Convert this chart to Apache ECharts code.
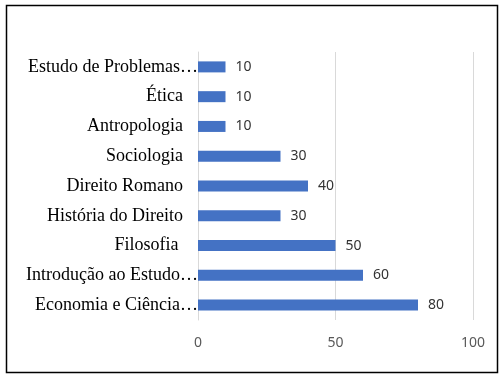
<!DOCTYPE html>
<html>
<head>
<meta charset="utf-8">
<script src="https://cdn.jsdelivr.net/npm/echarts@6/dist/echarts.min.js"></script>
<style>
  html, body { margin: 0; padding: 0; background: #fff; }
  #chart { width: 502px; height: 378px; }
</style>
</head>
<body>
<div id="chart"></div>
<script>
// categories listed bottom to top (category axis starts at the bottom)
const categories = [
  'Economia e Ciência…',
  'Introdução ao Estudo…',
  'Filosofia ',
  'História do Direito',
  'Direito Romano',
  'Sociologia',
  'Antropologia',
  'Ética',
  'Estudo de Problemas…'
];
const values = [80, 60, 50, 30, 40, 30, 10, 10, 10];
const xTicks = [0, 50, 100];

const chart = echarts.init(document.getElementById('chart'));

chart.setOption({
  animation: false,
  graphic: [{
    type: 'rect',
    shape: { x: 6.5, y: 5.5, width: 491, height: 367 },
    style: { fill: 'none', stroke: '#000', lineWidth: 1.5 },
    silent: true
  }],
  grid: { left: 198, right: 29, top: 52, bottom: 58 },
  xAxis: {
    type: 'value',
    min: xTicks[0],
    max: xTicks[xTicks.length - 1],
    interval: 50,
    axisLine: { show: false },
    axisTick: { show: false },
    splitLine: { lineStyle: { color: '#d9d9d9', width: 1 } },
    axisLabel: {
      color: '#595959',
      fontFamily: 'Noto Sans',
      fontSize: 14,
      margin: 16
    }
  },
  yAxis: {
    type: 'category',
    data: categories,
    axisLine: { show: true, lineStyle: { color: '#d9d9d9' } },
    axisTick: { show: false },
    axisLabel: {
      margin: 0,
      color: '#000',
      fontFamily: 'Liberation Serif',
      fontSize: 18,
      formatter: function (v) {
        return v.endsWith('…') ? '{t|' + v + '}' : '{n|' + v + '}';
      },
      rich: {
        t: { fontFamily: 'Liberation Serif', fontSize: 18, color: '#000' },
        n: { fontFamily: 'Liberation Serif', fontSize: 18, color: '#000', padding: [0, 15, 0, 0] }
      }
    }
  },
  series: [{
    type: 'bar',
    data: values,
    barWidth: 11,
    itemStyle: { color: '#4472c4' },
    label: {
      show: true,
      position: 'right',
      distance: 10,
      color: '#333',
      fontFamily: 'Noto Sans',
      fontSize: 14
    }
  }]
});
</script>
</body>
</html>
